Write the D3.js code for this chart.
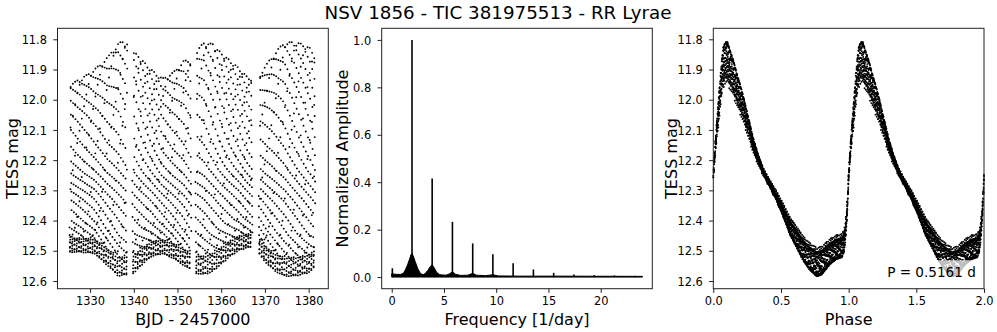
<!DOCTYPE html>
<html>
<head>
<meta charset="utf-8">
<script src="https://cdn.jsdelivr.net/npm/d3@7"></script>
<style>
  body { margin: 0; background: #fff; }
  text { font-family: "DejaVu Sans", sans-serif; fill: #000; }
</style>
</head>
<body>
<script>
// values

// observation windows (TESS orbits), BJD - 2457000, 30 min cadence
var segStart = [1325.30, 1339.66, 1354.11, 1368.59];
var segEnd   = [1338.52, 1353.18, 1367.15, 1381.51];
var cadence = 1 / 48;
var period = 0.5161;
var epoch = 1325.0;

// brightest / faintest magnitude reached around each time (upper and lower edge of the light curve)
var envTime   = [1325.3, 1328.0, 1331.0, 1334.0, 1336.5, 1338.5, 1340.0, 1342.0, 1344.0, 1346.5, 1349.0, 1351.5, 1353.2, 1354.1, 1356.0, 1358.0, 1360.0, 1362.0, 1364.0, 1366.0, 1367.2, 1368.6, 1370.5, 1372.5, 1374.5, 1376.5, 1378.5, 1380.5, 1381.5];
var envBright = [11.95, 11.93, 11.90, 11.86, 11.81, 11.81, 11.84, 11.87, 11.90, 11.93, 11.91, 11.87, 11.87, 11.845, 11.81, 11.815, 11.845, 11.87, 11.895, 11.925, 11.93, 11.92, 11.88, 11.84, 11.81, 11.81, 11.815, 11.83, 11.86];
var envFaint  = [12.505, 12.505, 12.51, 12.55, 12.585, 12.58, 12.575, 12.545, 12.52, 12.51, 12.525, 12.55, 12.565, 12.575, 12.58, 12.57, 12.545, 12.52, 12.50, 12.49, 12.49, 12.51, 12.545, 12.57, 12.585, 12.585, 12.58, 12.57, 12.55];
// phase offset estimated from the width of the rising branch
var envShift  = [0.012, 0.010, 0.007, 0.0, -0.011, -0.010, -0.007, 0.001, 0.006, 0.010, 0.006, 0.0, -0.002, -0.006, -0.010, -0.009, -0.003, 0.003, 0.007, 0.011, 0.011, 0.009, 0.001, -0.006, -0.011, -0.011, -0.010, -0.008, -0.002];

// mean folded light curve (centre of the band in the phase plot)
var tplPhase = [0.000, 0.012, 0.025, 0.037, 0.049, 0.062, 0.074, 0.090, 0.105, 0.120, 0.150, 0.173, 0.200, 0.222, 0.260, 0.296, 0.330, 0.369, 0.420, 0.468, 0.520, 0.567, 0.620, 0.665, 0.710, 0.764, 0.800, 0.862, 0.910, 0.950, 0.965, 0.975, 0.985, 0.993, 1.000];
var tplMag   = [12.25, 12.17, 12.10, 12.04, 11.98, 11.92, 11.88, 11.865, 11.865, 11.885, 11.92, 11.955, 11.99, 12.022, 12.085, 12.145, 12.19, 12.235, 12.28, 12.32, 12.37, 12.42, 12.46, 12.495, 12.52, 12.54, 12.535, 12.505, 12.49, 12.485, 12.47, 12.44, 12.39, 12.33, 12.25];

// periodogram: spikes and the broad base under them
var peakFreq = [0.06, 1.94, 3.87, 5.81, 7.75, 9.68, 11.62, 13.56, 15.50, 17.44, 19.38, 21.31, 23.25];
var peakAmp  = [0.037, 1.0, 0.416, 0.233, 0.142, 0.096, 0.058, 0.032, 0.018, 0.011, 0.008, 0.007, 0.005];
var baseFreq = [0.0, 0.3, 0.8, 1.1, 1.3, 1.5, 1.7, 1.85, 1.94, 2.05, 2.25, 2.5, 2.75, 3.0, 3.2, 3.45, 3.7, 3.87, 4.05, 4.3, 4.6, 5.2, 5.5, 5.81, 6.1, 6.6, 7.3, 7.75, 8.1, 9.0, 9.68, 10.2, 12.0, 16.0, 24.0];
var baseAmp  = [0.014, 0.012, 0.011, 0.015, 0.03, 0.05, 0.075, 0.095, 0.10, 0.09, 0.065, 0.035, 0.015, 0.01, 0.015, 0.028, 0.045, 0.052, 0.04, 0.02, 0.01, 0.008, 0.013, 0.022, 0.012, 0.007, 0.008, 0.016, 0.008, 0.006, 0.01, 0.005, 0.004, 0.004, 0.003];

var timeTicks = [1330, 1340, 1350, 1360, 1370, 1380];
var magTicks = [11.8, 11.9, 12.0, 12.1, 12.2, 12.3, 12.4, 12.5, 12.6];
var freqTicks = [0, 5, 10, 15, 20];
var ampTicks = [0.0, 0.2, 0.4, 0.6, 0.8, 1.0];
var phaseTicks = [0.0, 0.5, 1.0, 1.5, 2.0];

var W = 997, H = 332;
var axTop = 28.3, axBot = 288.7;
var tickLen = 4.2;

var svg = d3.select("body").append("svg")
	.attr("width", W)
	.attr("height", H);

// light curve built from the read envelopes and the folded shape
var bright = d3.scaleLinear().domain(envTime).range(envBright).clamp(true);
var faint = d3.scaleLinear().domain(envTime).range(envFaint).clamp(true);
var shift = d3.scaleLinear().domain(envTime).range(envShift).clamp(true);
var pkMag = d3.min(tplMag), mnMag = d3.max(tplMag);
var shape = d3.scaleLinear().domain(tplPhase).range(tplMag.map(function(m) { return (m - pkMag) / (mnMag - pkMag); }));

var obs = [];
segStart.forEach(function(s, i) {
	var n = Math.floor((segEnd[i] - s) / cadence);
	for (var k = 0; k <= n; k++) {
		var t = s + k * cadence;
		var ph = (t - epoch) / period + shift(t);
		ph = ph - Math.floor(ph);
		var m = bright(t) + (faint(t) - bright(t)) * shape(ph);
		obs.push({t: t, ph: ph, mag: m});
	}
});

var fmt1 = d3.format(".1f");

function frame(x0, x1) {
	svg.append("rect")
		.attr("x", x0).attr("y", axTop)
		.attr("width", x1 - x0).attr("height", axBot - axTop)
		.attr("fill", "none")
		.attr("stroke", "#222")
		.attr("stroke-width", 1);
}

function axes(x, y, xt, yt, xf, yf) {
	var gx = svg.append("g").attr("transform", "translate(0," + axBot + ")")
		.call(d3.axisBottom(x).tickValues(xt).tickFormat(xf).tickSize(tickLen).tickPadding(4).tickSizeOuter(0));
	var gy = svg.append("g").attr("transform", "translate(" + x.range()[0] + ",0)")
		.call(d3.axisLeft(y).tickValues(yt).tickFormat(yf).tickSize(tickLen).tickPadding(6.3).tickSizeOuter(0));
	[gx, gy].forEach(function(g) {
		g.select(".domain").remove();
		g.selectAll("line").attr("stroke", "#222").attr("stroke-width", 1);
		g.selectAll("text").attr("font-size", "11.4px").attr("font-family", "DejaVu Sans");
	});
	gx.selectAll("text").attr("dy", "0.74em");
	gy.selectAll("text").attr("dy", "0.36em");
}

function xlabel(txt, x) {
	svg.append("text")
		.attr("x", (x.range()[0] + x.range()[1]) / 2)
		.attr("y", 325.3)
		.attr("text-anchor", "middle")
		.attr("font-size", "16px")
		.text(txt);
}

function ylabel(txt, xpos) {
	svg.append("text")
		.attr("transform", "translate(" + xpos + "," + ((axTop + axBot) / 2) + ") rotate(-90)")
		.attr("text-anchor", "middle")
		.attr("font-size", "16px")
		.text(txt);
}

// panel 1: light curve
var xTime = d3.scaleLinear().domain([1322.55, 1384.5]).range([57.5, 328.3]);
var yMag1 = d3.scaleLinear().domain([11.7636, 12.6255]).range([axTop, axBot]);

svg.append("g").selectAll("circle").data(obs).join("circle")
	.attr("cx", function(d) { return xTime(d.t); })
	.attr("cy", function(d) { return yMag1(d.mag); })
	.attr("r", 0.95)
	.attr("fill", "#000");
frame(57.5, 328.3);
axes(xTime, yMag1, timeTicks, magTicks, d3.format("d"), fmt1);
xlabel("BJD - 2457000", xTime);
ylabel("TESS mag", 17.8);

// panel 2: periodogram
var xFreq = d3.scaleLinear().domain([-0.96, 24.94]).range([381.7, 652.3]);
var yAmp = d3.scaleLinear().domain([-0.049, 1.049]).range([axBot, axTop]);

var base = d3.range(baseFreq.length);
svg.append("path")
	.datum(base)
	.attr("d", d3.area()
		.x(function(i) { return xFreq(baseFreq[i]); })
		.y0(yAmp(0))
		.y1(function(i) { return yAmp(baseAmp[i]); }))
	.attr("fill", "#000")
	.attr("stroke", "#000")
	.attr("stroke-width", 1);

svg.append("g").selectAll("line").data(d3.range(peakFreq.length)).join("line")
	.attr("x1", function(i) { return xFreq(peakFreq[i]); })
	.attr("x2", function(i) { return xFreq(peakFreq[i]); })
	.attr("y1", yAmp(0))
	.attr("y2", function(i) { return yAmp(peakAmp[i]); })
	.attr("stroke", "#000")
	.attr("stroke-width", 1.6);
frame(381.7, 652.3);
axes(xFreq, yAmp, freqTicks, ampTicks, d3.format("d"), fmt1);
xlabel("Frequency [1/day]", xFreq);
ylabel("Normalized Amplitude", 347.8);

// panel 3: phased light curve, shown twice
var xPhase = d3.scaleLinear().domain([0, 2]).range([713.3, 984.0]);
var yMag3 = d3.scaleLinear().domain([11.7636, 12.6255]).range([axTop, axBot]);

var folded = obs.map(function(d) { return {ph: d.ph, mag: d.mag}; })
	.concat(obs.map(function(d) { return {ph: d.ph + 1, mag: d.mag}; }));

svg.append("g").selectAll("circle").data(folded).join("circle")
	.attr("cx", function(d) { return xPhase(d.ph); })
	.attr("cy", function(d) { return yMag3(d.mag); })
	.attr("r", 0.95)
	.attr("fill", "#000");

var pText = svg.append("text")
	.attr("x", xPhase(1.94))
	.attr("y", 277.3)
	.attr("text-anchor", "end")
	.attr("font-size", "13.6px")
	.text("P = " + period.toFixed(4) + " d");
var bb = pText.node().getBBox();
svg.insert("rect", function() { return pText.node(); })
	.attr("x", bb.x - 4)
	.attr("y", bb.y - 4)
	.attr("width", bb.width + 8)
	.attr("height", bb.height + 8)
	.attr("rx", 3)
	.attr("fill", "#fff")
	.attr("fill-opacity", 0.75);

frame(713.3, 984.0);
axes(xPhase, yMag3, phaseTicks, magTicks, fmt1, fmt1);
xlabel("Phase", xPhase);
ylabel("TESS mag", 677.3);

// title
svg.append("text")
	.attr("x", 498)
	.attr("y", 18.5)
	.attr("text-anchor", "middle")
	.attr("font-size", "18.3px")
	.text("NSV 1856 - TIC 381975513 - RR Lyrae");
</script>
</body>
</html>
